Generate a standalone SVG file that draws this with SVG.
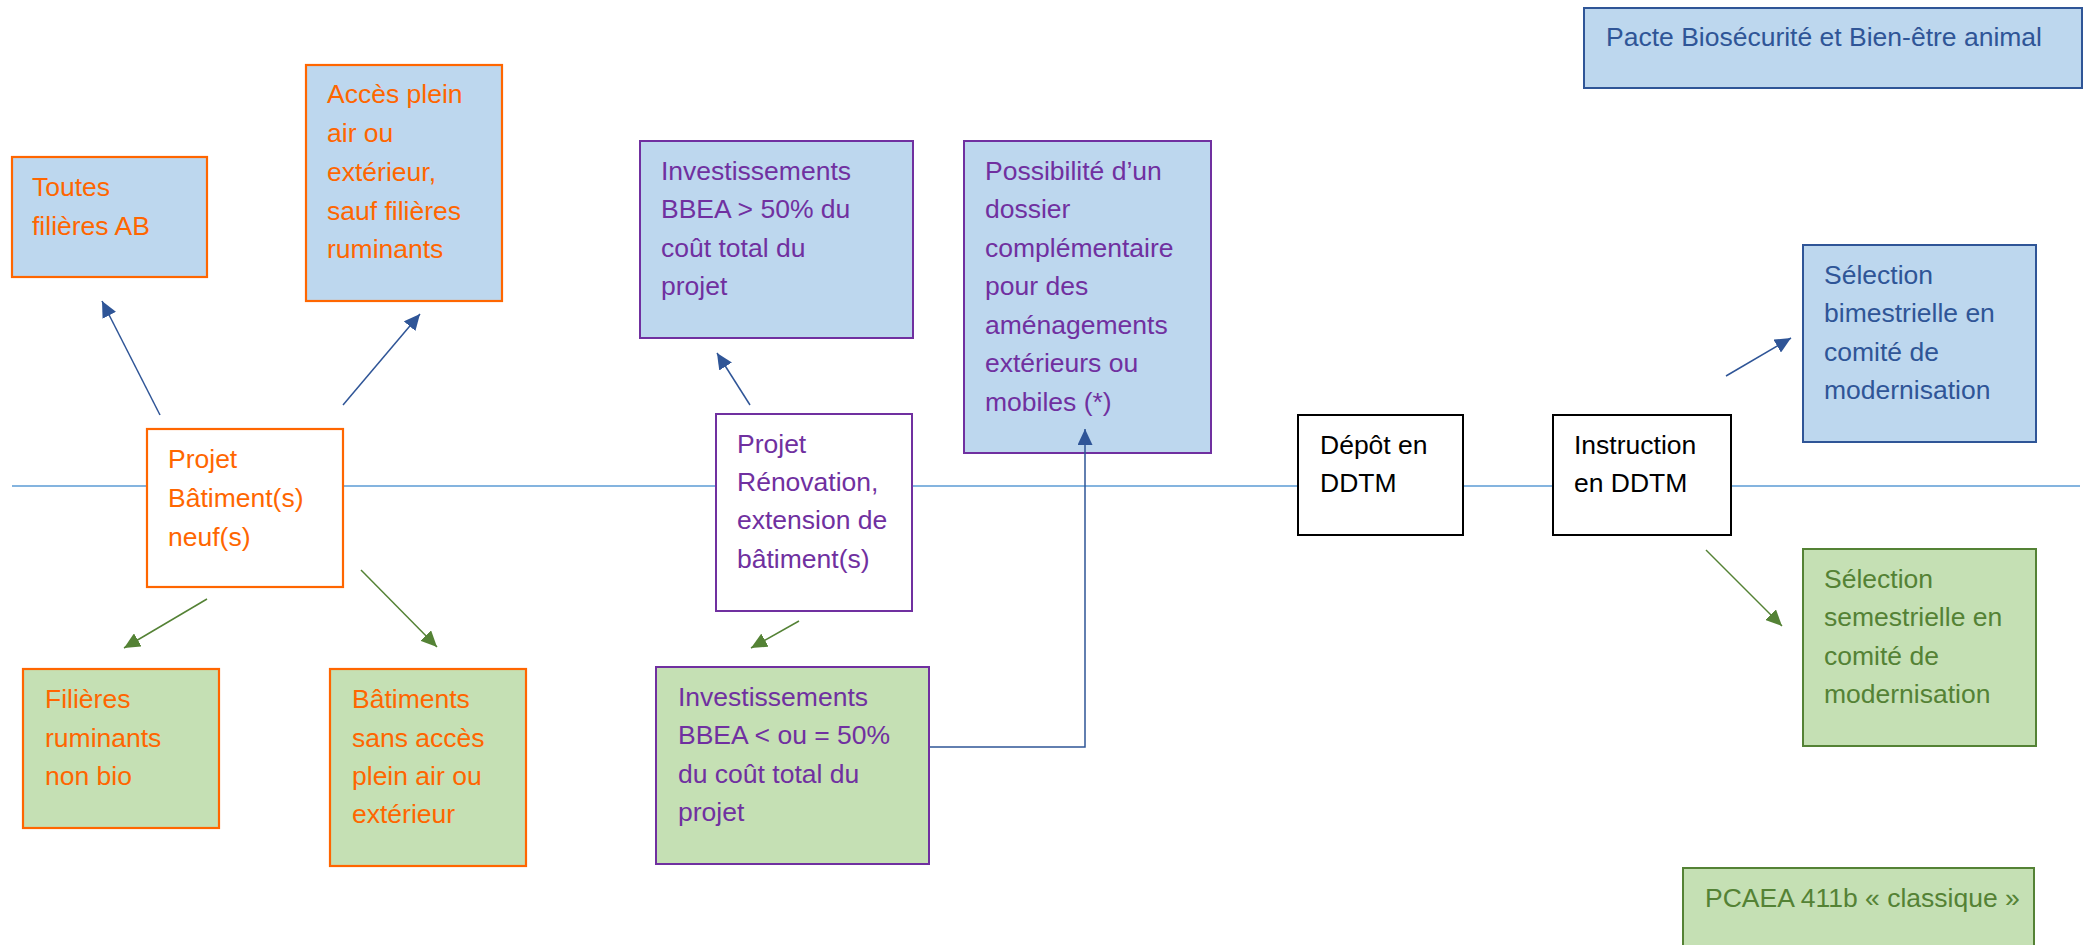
<svg xmlns="http://www.w3.org/2000/svg" width="2089" height="945" viewBox="0 0 2089 945">
<style>
text{font-family:"Liberation Sans",Arial,sans-serif;font-size:26.5px}
.or rect{stroke:#FF6600;stroke-width:2.2}
.or text{fill:#FF6600}
.pu rect{stroke:#7030A0;stroke-width:2}
.pu text{fill:#7030A0}
.bk rect{stroke:#000;stroke-width:2;fill:#fff}
.bk text{fill:#000}
.db rect{stroke:#2F5597;stroke-width:2}
.db text{fill:#2F5597}
.gr rect{stroke:#548235;stroke-width:2}
.gr text{fill:#548235}
.fb{fill:#BDD7EE}
.fg{fill:#C5E0B4}
.fw{fill:#fff}
.ab{stroke:#2F5597;stroke-width:1.5;fill:none}
.ag{stroke:#548235;stroke-width:1.5;fill:none}
</style>
<defs>
<marker id="mb" markerUnits="userSpaceOnUse" markerWidth="16" markerHeight="15" refX="16" refY="7.5" orient="auto"><path d="M0,0 L16,7.5 L0,15 z" fill="#2F5597"/></marker>
<marker id="mg" markerUnits="userSpaceOnUse" markerWidth="16" markerHeight="15" refX="16" refY="7.5" orient="auto"><path d="M0,0 L16,7.5 L0,15 z" fill="#548235"/></marker>
</defs>
<rect width="2089" height="945" fill="#fff"/>
<line x1="12" y1="486" x2="2080" y2="486" stroke="#5B9BD5" stroke-width="1.5"/>
<g id="toutes" class="or"><rect class="fb" x="12" y="157" width="195" height="120"/>
<text x="32" y="196">Toutes</text><text x="32" y="235">filières AB</text></g>
<g id="acces" class="or"><rect class="fb" x="306" y="65" width="196" height="236"/>
<text x="327" y="103">Accès plein</text><text x="327" y="142">air ou</text><text x="327" y="181">extérieur,</text><text x="327" y="220">sauf filières</text><text x="327" y="258">ruminants</text></g>
<g id="projet-neuf" class="or"><rect class="fw" x="147" y="429" width="196" height="158"/>
<text x="168" y="468">Projet</text><text x="168" y="507">Bâtiment(s)</text><text x="168" y="546">neuf(s)</text></g>
<g id="filieres" class="or"><rect class="fg" x="23" y="669" width="196" height="159"/>
<text x="45" y="708">Filières</text><text x="45" y="747">ruminants</text><text x="45" y="785">non bio</text></g>
<g id="batiments" class="or"><rect class="fg" x="330" y="669" width="196" height="197"/>
<text x="352" y="708">Bâtiments</text><text x="352" y="747">sans accès</text><text x="352" y="785">plein air ou</text><text x="352" y="823">extérieur</text></g>
<g id="invest-sup" class="pu"><rect class="fb" x="640" y="141" width="273" height="197"/>
<text x="661" y="180">Investissements</text><text x="661" y="218">BBEA &gt; 50% du</text><text x="661" y="257">coût total du</text><text x="661" y="295">projet</text></g>
<g id="possibilite" class="pu"><rect class="fb" x="964" y="141" width="247" height="312"/>
<text x="985" y="180">Possibilité d’un</text><text x="985" y="218">dossier</text><text x="985" y="257">complémentaire</text><text x="985" y="295">pour des</text><text x="985" y="334">aménagements</text><text x="985" y="372">extérieurs ou</text><text x="985" y="411">mobiles (*)</text></g>
<g id="projet-renov" class="pu"><rect class="fw" x="716" y="414" width="196" height="197"/>
<text x="737" y="453">Projet</text><text x="737" y="491">Rénovation,</text><text x="737" y="529">extension de</text><text x="737" y="568">bâtiment(s)</text></g>
<g id="invest-inf" class="pu"><rect class="fg" x="656" y="667" width="273" height="197"/>
<text x="678" y="706">Investissements</text><text x="678" y="744">BBEA &lt; ou = 50%</text><text x="678" y="783">du coût total du</text><text x="678" y="821">projet</text></g>
<g id="depot" class="bk"><rect x="1298" y="415" width="165" height="120"/>
<text x="1320" y="454">Dépôt en</text><text x="1320" y="492">DDTM</text></g>
<g id="instruction" class="bk"><rect x="1553" y="415" width="178" height="120"/>
<text x="1574" y="454">Instruction</text><text x="1574" y="492">en DDTM</text></g>
<g id="bimestrielle" class="db"><rect class="fb" x="1803" y="245" width="233" height="197"/>
<text x="1824" y="284">Sélection</text><text x="1824" y="322">bimestrielle en</text><text x="1824" y="361">comité de</text><text x="1824" y="399">modernisation</text></g>
<g id="semestrielle" class="gr"><rect class="fg" x="1803" y="549" width="233" height="197"/>
<text x="1824" y="588">Sélection</text><text x="1824" y="626">semestrielle en</text><text x="1824" y="665">comité de</text><text x="1824" y="703">modernisation</text></g>
<g id="pacte" class="db"><rect class="fb" x="1584" y="8" width="498" height="80"/>
<text x="1606" y="46">Pacte Biosécurité et Bien-être animal</text></g>
<g id="pcaea" class="gr"><rect class="fg" x="1683" y="868" width="351" height="100"/>
<text x="1705" y="907">PCAEA 411b « classique »</text></g>
<g id="connectors">
<line class="ab" x1="160" y1="415" x2="102" y2="301" marker-end="url(#mb)"/>
<line class="ab" x1="343" y1="405" x2="420" y2="314" marker-end="url(#mb)"/>
<line class="ag" x1="207" y1="599" x2="124" y2="648" marker-end="url(#mg)"/>
<line class="ag" x1="361" y1="570" x2="437" y2="647" marker-end="url(#mg)"/>
<line class="ab" x1="750" y1="405" x2="717" y2="353" marker-end="url(#mb)"/>
<line class="ag" x1="799" y1="621" x2="751" y2="648" marker-end="url(#mg)"/>
<path class="ab" d="M930,747 H1085 V429" marker-end="url(#mb)"/>
<line class="ab" x1="1726" y1="376" x2="1791" y2="338" marker-end="url(#mb)"/>
<line class="ag" x1="1706" y1="550" x2="1782" y2="626" marker-end="url(#mg)"/>
</g>
</svg>
